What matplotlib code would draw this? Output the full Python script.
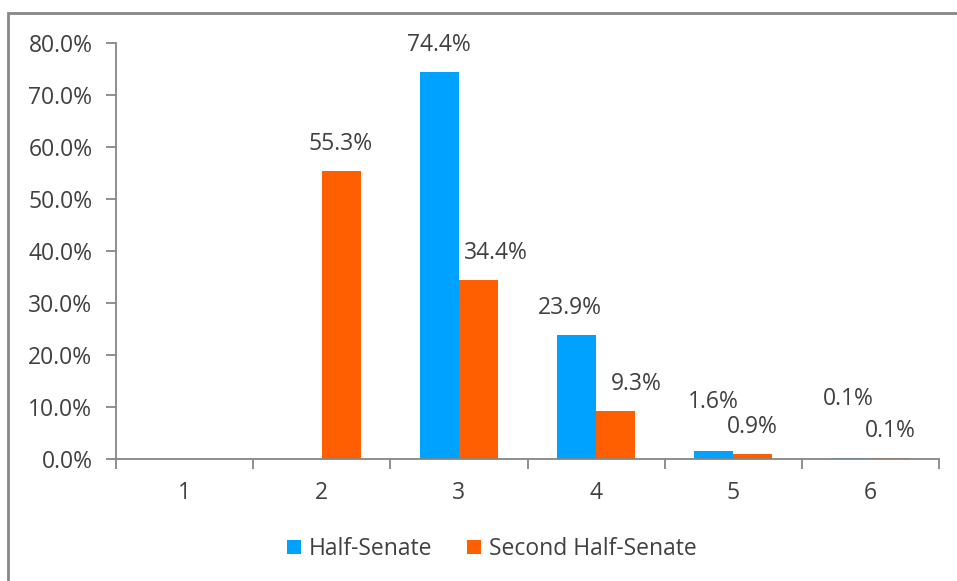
import numpy as np
import matplotlib
matplotlib.use("Agg")
import matplotlib.pyplot as plt
from matplotlib.patches import Rectangle

categories = ["1", "2", "3", "4", "5", "6"]
half_senate = [np.nan, np.nan, 74.4, 23.9, 1.6, 0.1]
second_half = [np.nan, 55.3, 34.4, 9.3, 0.9, 0.1]
series_names = ["Half-Senate", "Second Half-Senate"]
yticks = [0, 10, 20, 30, 40, 50, 60, 70, 80]

# label offsets in pixels (Excel nudged some labels)
half_dy = [27, 27, 27, 27, 49, 59]
half_dx = [0, 0, 0, -7, 0, -3]
second_dy = [27, 27, 27, 27, 27, 27]
second_dx = [0, -1, 17, 21, 0, 0]

blue = "#00A2FF"
orange = "#FF5F00"
text_c = "#404040"
axis_c = "#868686"

plt.rcParams['font.family'] = ['Open Sans', 'DejaVu Sans']

fig = plt.figure(figsize=(9.57, 5.81), dpi=100)
ax = fig.add_axes([116/957, 1-459/581, (939-116)/957, (459-43)/581])

x = np.arange(len(categories))
w = 0.285
b1 = ax.bar(x - w/2, half_senate, w, color=blue, label=series_names[0])
b2 = ax.bar(x + w/2, second_half, w, color=orange, label=series_names[1])

fs = 16.5
px = 0.72
for xs, vals, dxs, dys in ((x - w/2, half_senate, half_dx, half_dy),
                           (x + w/2, second_half, second_dx, second_dy)):
    for xi, v, dx, dy in zip(xs, vals, dxs, dys):
        if not np.isnan(v):
            ax.annotate(f"{v:.1f}%", (xi, v), xytext=(dx*px, dy*px), textcoords="offset points",
                        ha="center", va="center", fontsize=fs, color=text_c)

ax.set_xlim(-0.5, len(categories) - 0.5)
ax.set_ylim(0, 80)
ax.set_yticks(yticks)
ax.set_yticklabels([f"{t:.1f}%" for t in yticks], fontsize=fs, color=text_c)
ax.set_xticks(np.arange(-0.5, len(categories), 1.0))
ax.set_xticklabels([])
ax.set_xticks(x, minor=True)
ax.set_xticklabels(categories, minor=True, fontsize=fs, color=text_c)
ax.tick_params(axis='x', which='minor', length=0, pad=16)
ax.tick_params(axis='x', which='major', length=7, color=axis_c, width=1.3)
ax.tick_params(axis='y', length=7, color=axis_c, width=1.3, pad=10)

for s in ["top", "right"]:
    ax.spines[s].set_visible(False)
for s in ["left", "bottom"]:
    ax.spines[s].set_color(axis_c)
    ax.spines[s].set_linewidth(1.3)

leg = fig.legend(handles=[b1, b2], loc="center", bbox_to_anchor=(492/957, 1-549/581),
                 ncol=2, frameon=False, fontsize=fs, handlelength=0.6, handleheight=0.6,
                 handletextpad=0.35, columnspacing=1.5)
for t in leg.get_texts():
    t.set_color(text_c)

# chart border (extends beyond right/bottom edge like the reference crop)
fig.patches.append(Rectangle((8/957, -0.1), 1.2, 1-13/581+0.1, transform=fig.transFigure,
                             fill=False, edgecolor="#878787", linewidth=2.0))

fig.savefig("out.png", dpi=100)
